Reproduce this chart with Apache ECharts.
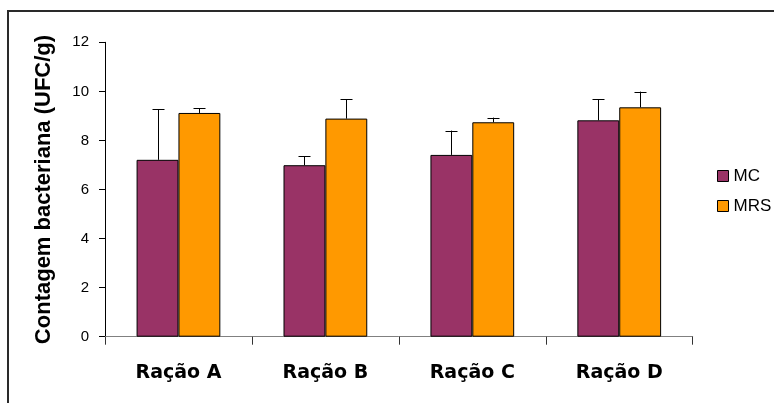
<!DOCTYPE html>
<html>
<head>
<meta charset="utf-8">
<script src="https://cdn.jsdelivr.net/npm/echarts@6/dist/echarts.min.js"></script>
<style>
html,body{margin:0;padding:0;background:#fff;}
#chart{width:774px;height:403px;}
</style>
</head>
<body>
<div id="chart"></div>
<script>
var categories = ['Ração A', 'Ração B', 'Ração C', 'Ração D'];
var mcValues = [7.21, 6.99, 7.41, 8.82];
var mcErrors = [2.06, 0.36, 0.99, 0.86];
var mrsValues = [9.12, 8.89, 8.74, 9.35];
var mrsErrors = [0.19, 0.79, 0.19, 0.64];
var yTicks = [0, 2, 4, 6, 8, 10, 12];

var FONT = "'Liberation Sans', Arial, Helvetica, sans-serif";
var WIDE = "'DejaVu Sans', 'Liberation Sans', sans-serif";
var CAT_GAP = 0.43;

function errorSeries(values, errors, side) {
  var data = values.map(function (v, i) { return [i, v, v + errors[i]]; });
  return {
    type: 'custom',
    name: 'err' + side,
    silent: true,
    z: 5,
    data: data,
    encode: { x: 0, y: [1, 2] },
    renderItem: function (params, api) {
      var idx = api.value(0);
      var base = api.coord([idx, api.value(1)]);
      var top = api.coord([idx, api.value(2)]);
      var band = api.size([1, 0])[0];
      var bw = band * (1 - CAT_GAP) / 2;
      var x = Math.round(base[0] + side * bw / 2) + 0.5;
      var cap = 6;
      var style = { stroke: '#000', lineWidth: 1, fill: null };
      return {
        type: 'group',
        children: [
          { type: 'line', shape: { x1: x, y1: base[1], x2: x, y2: top[1] }, style: style },
          { type: 'line', shape: { x1: x - cap, y1: Math.round(top[1]) + 0.5, x2: x + cap, y2: Math.round(top[1]) + 0.5 }, style: style }
        ]
      };
    }
  };
}

var chart = echarts.init(document.getElementById('chart'), null, { renderer: 'canvas' });
chart.setOption({
  animation: false,
  backgroundColor: '#fff',
  textStyle: { fontFamily: FONT },
  graphic: [{
    type: 'rect',
    shape: { x: 8, y: 11, width: 900, height: 600 },
    style: { fill: null, stroke: '#2a2a2a', lineWidth: 2 },
    silent: true
  }],
  grid: { left: 105, top: 42.3, right: 81.3, bottom: 66.3, containLabel: false },
  legend: {
    orient: 'vertical',
    left: 717,
    top: 167,
    padding: 0,
    itemWidth: 11,
    itemHeight: 11,
    itemGap: 12,
    data: ['MC', 'MRS'],
    icon: 'rect',
    itemStyle: { borderColor: '#000', borderWidth: 1 },
    textStyle: { fontFamily: FONT, fontSize: 17, color: '#000', lineHeight: 18, padding: [0, 0, 0, 0] },
    formatter: function (n) { return n; }
  },
  xAxis: {
    type: 'category',
    data: categories,
    axisLine: { show: true, lineStyle: { color: '#808080', width: 1 } },
    axisTick: { show: true, alignWithLabel: false, length: 8, lineStyle: { color: '#333' } },
    axisLabel: { fontFamily: WIDE, fontSize: 19, fontWeight: 'bold', color: '#000', margin: 27 },
    splitLine: { show: false }
  },
  yAxis: {
    type: 'value',
    min: 0,
    max: 12,
    interval: 2,
    name: 'Contagem bacteriana (UFC/g)',
    nameLocation: 'middle',
    nameGap: 50,
    nameRotate: 90,
    nameTextStyle: { fontFamily: FONT, fontSize: 22, fontWeight: 'bold', color: '#000' },
    axisLine: { show: true, lineStyle: { color: '#000', width: 1 } },
    axisTick: { show: true, length: 6, lineStyle: { color: '#000' } },
    axisLabel: {
      fontFamily: FONT, fontSize: 15, color: '#000', margin: 16,
      formatter: function (v) { return yTicks.indexOf(v) >= 0 ? String(v) : ''; }
    },
    splitLine: { show: false }
  },
  series: [
    {
      name: 'MC', type: 'bar', data: mcValues,
      barGap: '0%', barCategoryGap: (CAT_GAP * 100) + '%',
      itemStyle: { color: '#993366', borderColor: '#000', borderWidth: 1 }
    },
    {
      name: 'MRS', type: 'bar', data: mrsValues,
      barGap: '0%', barCategoryGap: (CAT_GAP * 100) + '%',
      itemStyle: { color: '#FF9900', borderColor: '#000', borderWidth: 1 }
    },
    errorSeries(mcValues, mcErrors, -1),
    errorSeries(mrsValues, mrsErrors, 1)
  ]
});
</script>
</body>
</html>
